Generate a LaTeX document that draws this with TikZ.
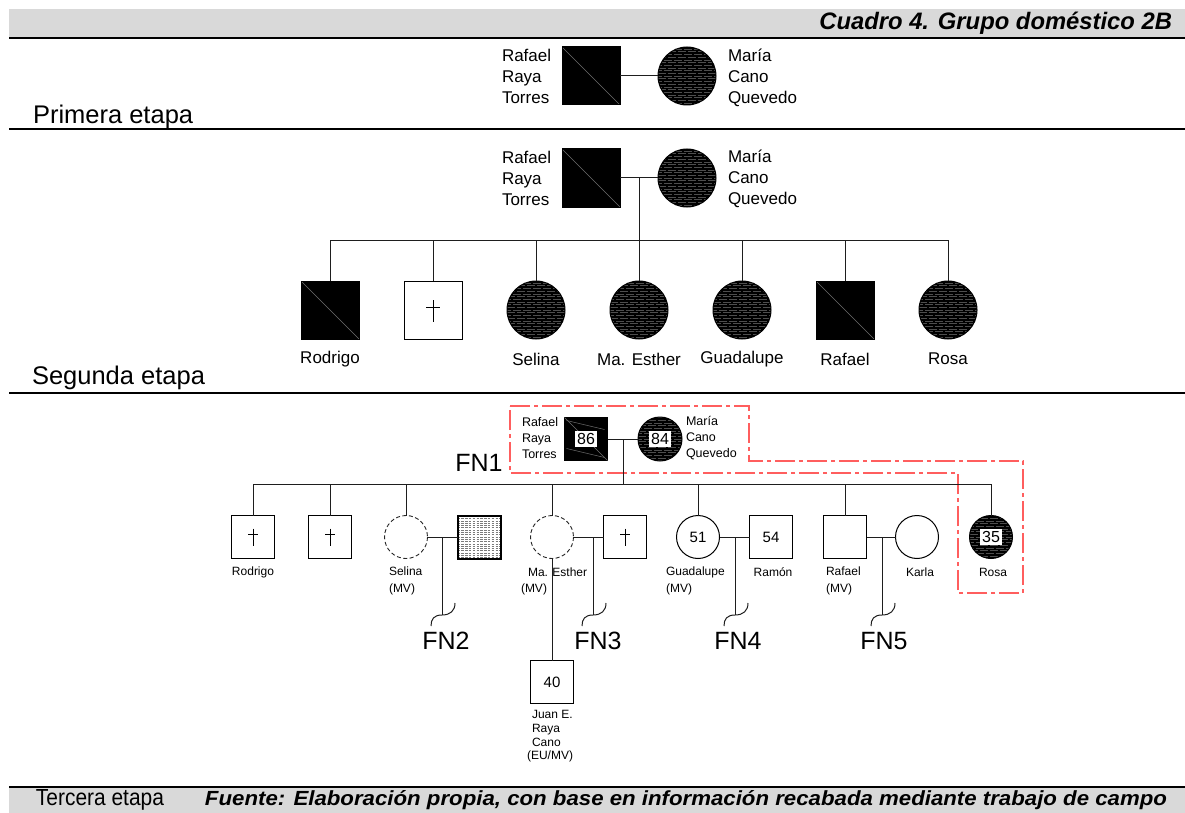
\documentclass[tikz,border=0pt]{standalone}
\usepackage{fontspec}
\setmainfont{Liberation Sans}
\usetikzlibrary{calc}

\definecolor{band}{HTML}{D9D9D9}
\definecolor{conncol}{HTML}{1E1E1E}
\definecolor{wavecol}{HTML}{4E4E4E}
\definecolor{diagcol}{HTML}{6E6E6E}
\definecolor{dotcol}{HTML}{7A7A7A}
\definecolor{boxred}{HTML}{FF5E5E}

\newcommand{\fsTitle}{\fontsize{23.8}{28}\selectfont\bfseries\itshape}
\newcommand{\fsStage}{\fontsize{25.5}{30}\selectfont}
\newcommand{\fsName}{\fontsize{17}{21}\selectfont}
\newcommand{\fsPar}{\fontsize{12.5}{16}\selectfont}
\newcommand{\fsLab}{\fontsize{12}{17}\selectfont}
\newcommand{\fsJuan}{\fontsize{12}{13.7}\selectfont}
\newcommand{\fsFN}{\fontsize{25}{30}\selectfont}
\newcommand{\fsNum}{\fontsize{16}{18}\selectfont}

\begin{document}
\begin{tikzpicture}[x=1pt,y=-1pt,
  conn/.style={draw=conncol, line width=1pt},
  txt/.style={inner sep=0pt, outer sep=0pt},
  sq/.style={rectangle, draw=black, line width=1pt, inner sep=0pt, outer sep=0pt, minimum size=#1},
  ci/.style={circle, draw=black, line width=1pt, inner sep=0pt, outer sep=0pt, minimum size=#1},
  solidmale/.style={fill=black, path picture={
      \draw[diagcol, line width=0.6pt] (path picture bounding box.north west) -- (path picture bounding box.south east);}},
  wavy/.style={fill=black, path picture={
      \foreach \k in {0,...,26}{
        \ifodd\k\relax\def\ph{4pt}\else\def\ph{0pt}\fi
        \draw[wavecol, line width=0.55pt, dash pattern=on 8pt off 2pt, dash phase=\ph]
          ([yshift={(\k-13)*2.7pt}]path picture bounding box.west) --
          ([yshift={(\k-13)*2.7pt}]path picture bounding box.east);}}},
  dotted fill/.style={fill=white, line width=2pt, path picture={
      \foreach \k in {0,...,20}{
        \draw[dotcol, line width=0.7pt, dash pattern=on 2.5pt off 1.3pt]
          ([yshift={(\k-10)*2.3pt}]path picture bounding box.west) --
          ([yshift={(\k-10)*2.3pt}]path picture bounding box.east);}}},
  deadbig/.style={path picture={
      \draw[line width=0.8pt] ([yshift=10pt]path picture bounding box.center) -- ([yshift=-12pt]path picture bounding box.center);
      \draw[line width=0.8pt] ([xshift=-7pt,yshift=3pt]path picture bounding box.center) -- ([xshift=7pt,yshift=3pt]path picture bounding box.center);}},
  deadsmall/.style={path picture={
      \draw[line width=0.7pt] ([yshift=8.5pt]path picture bounding box.center) -- ([yshift=-8.5pt]path picture bounding box.center);
      \draw[line width=0.7pt] ([xshift=-5pt,yshift=2.5pt]path picture bounding box.center) -- ([xshift=5pt,yshift=2.5pt]path picture bounding box.center);}},
  unknown/.style={draw=black!85, line width=0.9pt, dash pattern=on 4pt off 2.5pt},
  numbox/.style={fill=white, inner sep=2pt, text height=11.5pt, text depth=0.5pt, font=\fsNum},
  family/.style={draw=boxred, line width=1.3pt, dash pattern=on 20pt off 4pt on 4pt off 4pt},
  squig/.pic={\draw[conn] (13,-12) .. controls (13,-4) and (8,0) .. (0,0) .. controls (-8,0) and (-11,4) .. (-11,11);}
]
\useasboundingbox (0,0) rectangle (1185,813);

% ---------- header ----------
\fill[band] (9,9) rectangle (1185,37);
\node[txt, anchor=east, font=\fsTitle] (title) at (1172,23) {Cuadro 4. Grupo doméstico 2B};
\draw[line width=2pt] (9,38) -- (1185,38);

% ---------- first stage ----------
\node[sq=58pt, solidmale] (p1f) at (591,76) {};
\node[ci=58pt, wavy] (p1m) at (687,76) {};
\draw[conn] (p1f.east) -- (p1m.west);
\node[txt, anchor=west, align=left, font=\fsName] (p1ft) at (502,76) {Rafael\\Raya\\Torres};
\node[txt, anchor=west, align=left, font=\fsName] (p1mt) at (728,78) {María\\Cano\\Quevedo};
\node[txt, anchor=west, font=\fsStage] (st1) at (33,117) {Primera etapa};
\draw[line width=2pt] (9,129) -- (1185,129);

% ---------- second stage ----------
\node[sq=58pt, solidmale] (p2f) at (591,178) {};
\node[ci=58pt, wavy] (p2m) at (687,178) {};
\draw[conn] (p2f.east) -- (p2m.west);
\node[txt, anchor=west, align=left, font=\fsName] (p2ft) at (502,178) {Rafael\\Raya\\Torres};
\node[txt, anchor=west, align=left, font=\fsName] (p2mt) at (728,179) {María\\Cano\\Quevedo};

\coordinate (d2a) at (639,178);
\coordinate (d2b) at (639,240);
\node[sq=58pt, solidmale] (k1) at (330,310) {};
\node[sq=58pt, fill=white, deadbig] (k2) at (433,310) {};
\node[ci=58pt, wavy] (k3) at (536,310) {};
\node[ci=58pt, wavy] (k4) at (639,310) {};
\node[ci=58pt, wavy] (k5) at (742,310) {};
\node[sq=58pt, solidmale] (k6) at (845,310) {};
\node[ci=58pt, wavy] (k7) at (948,310) {};
\draw[conn] (d2a) -- (d2b);
\draw[conn] (k1 |- d2b) -- (k7 |- d2b);
\foreach \c in {k1,k2,k3,k5,k6,k7}{\draw[conn] (\c |- d2b) -- (\c.north);}
\draw[conn] (d2b) -- (k4.north);

\node[txt, font=\fsName] (k1t) at (330,359) {Rodrigo};
\node[txt, font=\fsName] (k3t) at (536,359) {Selina};
\node[txt, font=\fsName] (k4t) at (639,359) {Ma. Esther};
\node[txt, font=\fsName] (k5t) at (742,359) {Guadalupe};
\node[txt, font=\fsName] (k6t) at (845,359) {Rafael};
\node[txt, font=\fsName] (k7t) at (948,359) {Rosa};

\node[txt, anchor=west, font=\fsStage] (st2) at (32,378) {Segunda etapa};
\draw[line width=2pt] (9,393) -- (1185,393);

% ---------- third stage ----------
% household of origin (FN1)
\draw[family] (510,406) -- (749,406) -- (749,461) -- (1023,461) -- (1023,593)
  -- (958,593) -- (958,473) -- (510,473) -- cycle;

\node[sq=43pt, fill=black] (p3f) at (586,439) {};
\draw[diagcol, line width=0.6pt] (p3f.north west) -- (p3f.south east);
\draw[diagcol, line width=0.5pt] ($(p3f.north west)+(2,3)$) -- ($(p3f.north east)+(-3,12)$);
\draw[diagcol, line width=0.5pt] ($(p3f.south west)+(2,-12)$) -- ($(p3f.south east)+(-3,-3)$);
\node[numbox] (n86) at (p3f.center) {86};
\node[ci=44pt, wavy] (p3m) at (660,439) {};
\node[numbox] (n84) at (p3m.center) {84};
\draw[conn] (p3f.east) -- (p3m.west);
\node[txt, anchor=west, align=left, font=\fsPar] (p3ft) at (522,438) {Rafael\\Raya\\Torres};
\node[txt, anchor=west, align=left, font=\fsPar] (p3mt) at (686,438) {María\\Cano\\Quevedo};
\node[txt, font=\fsFN] (fn1) at (479,463) {FN1};

\coordinate (d3a) at (623,439);
\coordinate (d3b) at (623,484);
\draw[conn] (d3a) -- (d3b);

\node[sq=43pt, fill=white, deadsmall] (g1) at (253,537) {};
\node[sq=43pt, fill=white, deadsmall] (g2) at (330,537) {};
\node[ci=43pt, fill=white, draw=none] (sel) at (406,537) {};
\draw[unknown] (sel) circle (21.5);
\node[sq=43pt, dotted fill] (selh) at (479,537) {};
\node[ci=43pt, fill=white, draw=none] (est) at (552,537) {};
\draw[unknown] (est) circle (21.5);
\node[sq=43pt, fill=white, deadsmall] (esth) at (625,537) {};
\node[ci=43pt, fill=white, font=\fontsize{15}{18}\selectfont] (gua) at (698,537) {51};
\node[sq=43pt, fill=white, font=\fontsize{15}{18}\selectfont] (ram) at (771,537) {54};
\node[sq=43pt, fill=white] (raf) at (845,537) {};
\node[ci=43pt, fill=white] (kar) at (917,537) {};
\node[ci=43pt, wavy] (ros) at (991,537) {};
\node[numbox] (n35) at (ros.center) {35};

\draw[conn] (g1 |- d3b) -- (ros |- d3b);
\foreach \c in {g1,g2,sel,est,gua,raf,ros}{\draw[conn] (\c |- d3b) -- (\c.north);}

% unions of the children and their new households
\draw[conn] (sel.east) -- (selh.west);
\draw[conn] (est.east) -- (esth.west);
\draw[conn] (gua.east) -- (ram.west);
\draw[conn] (raf.east) -- (kar.west);
\coordinate (u2) at (442,537);  \coordinate (e2) at (442,615);
\coordinate (u3) at (593,537);  \coordinate (e3) at (593,615);
\coordinate (u4) at (735,537);  \coordinate (e4) at (735,615);
\coordinate (u5) at (882,537);  \coordinate (e5) at (882,615);
\foreach \a/\b in {u2/e2,u3/e3,u4/e4,u5/e5}{\draw[conn] (\a) -- (\b); \pic at (\b) {squig};}
\node[txt, font=\fsFN] (fn2) at (446,641) {FN2};
\node[txt, font=\fsFN] (fn3) at (598,641) {FN3};
\node[txt, font=\fsFN] (fn4) at (738,641) {FN4};
\node[txt, font=\fsFN] (fn5) at (884,641) {FN5};

% grandson
\node[sq=43pt, fill=white, font=\fontsize{15}{18}\selectfont] (juan) at (552,682) {40};
\draw[conn] (est.south) -- (juan.north);
\node[txt, anchor=west, align=left, font=\fsJuan] (juant) at (532,736.5) {Juan E.\\Raya\\Cano\\\hspace*{-5pt}(EU/MV)};

% labels
\node[txt, font=\fsLab] (g1t) at (253,572) {Rodrigo};
\node[txt, anchor=west, align=left, font=\fsLab] (selt) at (389,580.5) {Selina\\(MV)};
\node[txt, anchor=west, font=\fsLab] (estt) at (528,572) {Ma. Esther};
\node[txt, anchor=west, font=\fsLab] (estmv) at (521,589) {(MV)};
\node[txt, anchor=west, align=left, font=\fsLab] (guat) at (666,580.5) {Guadalupe\\(MV)};
\node[txt, font=\fsLab] (ramt) at (773,572) {Ramón};
\node[txt, anchor=west, align=left, font=\fsLab] (raft) at (826,580.5) {Rafael\\(MV)};
\node[txt, font=\fsLab] (kart) at (920,572) {Karla};
\node[txt, font=\fsLab] (rost) at (993,572) {Rosa};

% ---------- footer ----------
\fill[band] (9,788) rectangle (1185,813);
\node[txt] (st3) at (100,800) {\resizebox{128pt}{16pt}{\fontsize{22}{26}\selectfont Tercera etapa}};
\node[txt] (src) at (686,800) {\resizebox{962pt}{15pt}{\fontsize{20}{24}\selectfont\bfseries\itshape Fuente: Elaboración propia, con base en información recabada mediante trabajo de campo}};
\draw[line width=2pt] (9,787) -- (1185,787);
\end{tikzpicture}
\end{document}
